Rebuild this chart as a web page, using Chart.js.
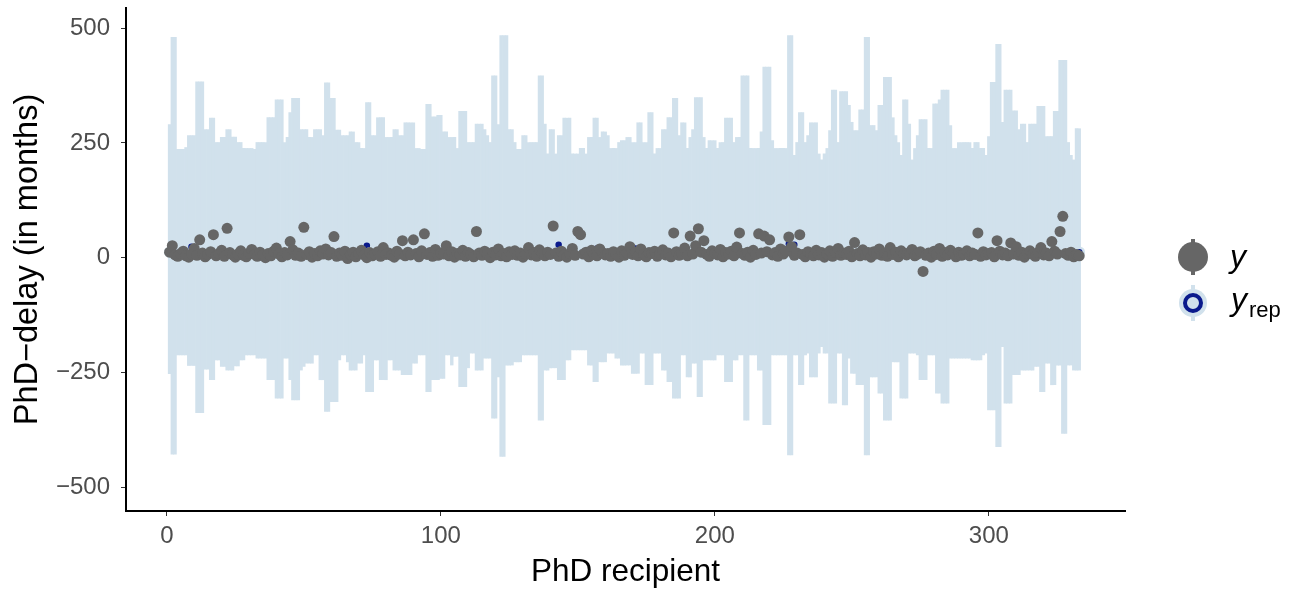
<!DOCTYPE html>
<html>
<head>
<meta charset="utf-8">
<title>PhD delay intervals</title>
<script src="https://cdn.jsdelivr.net/npm/chart.js@4.4.1/dist/chart.umd.min.js"></script>
<style>
  html, body { margin: 0; padding: 0; background: #fff; }
  #wrap { position: relative; width: 1291px; height: 590px; overflow: hidden; }
  #ppcChart { position: absolute; left: 0; top: 0; }
  .key { position: absolute; }
  .lab { position: absolute; font-family: "Liberation Sans", Arial, sans-serif; color: #000; line-height: 1; }
  .lab i { font-size: 32px; }
  .lab sub { font-size: 22px; font-style: normal; vertical-align: -7px; margin-left: 2px; }
</style>
</head>
<body>
<div id="wrap">
  <canvas id="ppcChart" width="1291" height="590"></canvas>

  <!-- legend: y -->
  <div class="key" style="left:1191px;top:239px;width:4px;height:36px;background:#666666;"></div>
  <div class="key" style="left:1178px;top:242px;width:30px;height:30px;border-radius:50%;background:#666666;"></div>
  <div class="lab" style="left:1230px;top:240px;"><i>y</i></div>

  <!-- legend: y_rep -->
  <div class="key" style="left:1191px;top:285px;width:4px;height:36px;background:#d1e1ec;"></div>
  <div class="key" style="left:1179px;top:289px;width:28px;height:28px;border-radius:50%;background:#d1e1ec;"></div>
  <div class="key" style="left:1183px;top:293px;width:12px;height:12px;border-radius:50%;border:4px solid #0a1a8c;background:#d1e1ec;"></div>
  <div class="lab" style="left:1231px;top:283px;"><i>y</i><sub>rep</sub></div>
</div>

<script>
// upper end of each predictive interval (months)
const hi = [
  290, 480, 480, 236, 236, 236, 240, 266, 266, 266, 383, 383, 383, 279, 279, 304, 304, 251, 251, 262,
  262, 279, 279, 263, 263, 251, 251, 238, 238, 238, 238, 236, 251, 251, 251, 251, 305, 305, 305, 344,
  344, 344, 251, 262, 316, 347, 347, 347, 279, 279, 279, 262, 262, 279, 279, 279, 266, 381, 381, 347,
  347, 278, 278, 266, 266, 266, 274, 274, 251, 251, 238, 238, 338, 338, 266, 266, 305, 305, 305, 262,
  262, 262, 279, 279, 266, 266, 294, 294, 294, 294, 238, 238, 236, 236, 334, 334, 307, 307, 310, 310,
  274, 274, 262, 262, 262, 238, 319, 319, 319, 251, 251, 251, 291, 291, 291, 279, 266, 251, 396, 396,
  290, 484, 484, 484, 279, 279, 251, 236, 236, 266, 266, 251, 251, 251, 251, 396, 396, 291, 226, 279,
  279, 226, 266, 266, 304, 304, 304, 226, 226, 226, 238, 238, 226, 262, 262, 304, 304, 262, 274, 274,
  266, 238, 238, 238, 251, 255, 255, 262, 262, 251, 251, 294, 294, 251, 251, 316, 316, 226, 238, 238,
  279, 279, 305, 305, 347, 347, 266, 294, 294, 238, 262, 279, 349, 349, 349, 262, 238, 255, 255, 255,
  238, 251, 251, 304, 304, 304, 251, 262, 262, 396, 396, 396, 238, 238, 238, 238, 274, 415, 415, 415,
  255, 238, 238, 238, 238, 238, 484, 484, 223, 251, 316, 316, 251, 266, 294, 294, 294, 226, 213, 226,
  238, 277, 365, 365, 251, 362, 362, 362, 332, 295, 277, 277, 322, 322, 480, 480, 288, 288, 277, 332,
  332, 393, 393, 393, 305, 266, 251, 223, 344, 344, 291, 213, 238, 266, 301, 301, 301, 238, 238, 335,
  335, 344, 365, 365, 365, 288, 238, 238, 251, 251, 251, 251, 251, 238, 251, 251, 238, 238, 223, 264,
  382, 382, 465, 465, 295, 365, 365, 365, 320, 320, 279, 291, 291, 251, 291, 291, 291, 330, 330, 330,
  264, 264, 264, 319, 319, 430, 430, 430, 251, 223, 213, 281, 281
];

// lower end of each predictive interval (months)
const lo = [
  -253, -428, -428, -212, -212, -212, -212, -235, -235, -235, -338, -338, -338, -243, -243, -266, -266, -223, -223, -237,
  -237, -245, -245, -245, -236, -236, -223, -223, -212, -212, -212, -212, -219, -219, -219, -219, -266, -266, -266, -306,
  -306, -306, -219, -219, -266, -310, -310, -310, -245, -237, -230, -230, -230, -212, -212, -266, -266, -335, -335, -314,
  -314, -314, -223, -212, -212, -227, -245, -245, -245, -230, -230, -212, -292, -292, -292, -223, -223, -266, -266, -266,
  -223, -223, -245, -245, -245, -255, -255, -255, -255, -230, -230, -212, -212, -212, -292, -292, -266, -266, -266, -263,
  -263, -212, -212, -234, -215, -215, -281, -281, -281, -240, -208, -208, -245, -245, -245, -219, -219, -219, -350, -350,
  -260, -433, -433, -234, -234, -234, -227, -227, -227, -212, -212, -212, -212, -212, -212, -354, -354, -245, -245, -240,
  -240, -240, -266, -266, -266, -223, -223, -201, -201, -201, -201, -201, -201, -234, -234, -270, -270, -227, -227, -227,
  -208, -208, -208, -219, -219, -234, -234, -234, -234, -252, -252, -252, -208, -208, -277, -277, -277, -208, -208, -208,
  -245, -245, -270, -270, -306, -306, -306, -212, -212, -260, -260, -230, -230, -303, -303, -223, -223, -223, -223, -223,
  -212, -212, -212, -270, -270, -270, -223, -223, -212, -212, -354, -354, -212, -212, -212, -245, -245, -364, -364, -364,
  -212, -212, -212, -212, -212, -212, -430, -430, -212, -212, -277, -277, -212, -208, -260, -260, -260, -208, -194, -208,
  -208, -317, -317, -317, -208, -208, -321, -321, -219, -252, -252, -277, -277, -277, -430, -430, -260, -260, -260, -295,
  -295, -354, -354, -354, -227, -227, -227, -306, -306, -306, -208, -208, -208, -212, -266, -266, -266, -212, -212, -212,
  -295, -295, -317, -317, -317, -219, -219, -219, -219, -219, -219, -219, -219, -223, -223, -223, -223, -212, -208, -332,
  -332, -332, -412, -412, -194, -317, -317, -317, -255, -255, -255, -245, -245, -245, -245, -245, -237, -237, -292, -292,
  -230, -230, -277, -277, -234, -234, -383, -383, -234, -234, -245, -245, -245
];

// observed delay per recipient
const yObs = [
  12, 26, 6, 3, 9, 14, 4, 1, 8, 20, 5, 39, 10, 2, 7, 13, 50, 4, 9, 16,
  3, 64, 11, 6, 1, 8, 15, 5, 2, 10, 18, 7, 3, 12, 6, 0, 9, 4, 14, 21,
  8, 2, 11, 6, 35, 17, 5, 10, 3, 66, 7, 13, 1, 9, 4, 15, 8, 19, 6, 11,
  46, 3, 10, 5, 14, -2, 7, 12, 2, 9, 16, 6, 0, 11, 4, 8, 13, 3, 22, 7,
  10, 5, 1, 14, 8, 37, 4, 12, 6, 39, 9, 2, 15, 52, 7, 11, 3, 18, 5, 10,
  8, 26, 4, 13, 1, 9, 6, 16, 3, 11, 7, 2, 57, 10, 5, 14, 8, 0, 12, 6,
  19, 4, 9, 2, 13, 7, 15, 5, 10, 1, 8, 22, 6, 11, 3, 17, 9, 4, 12, 7,
  69, 10, 3, 14, 6, 1, 9, 20, 5, 57, 50, 8, 12, 2, 16, 7, 4, 19, 11, 6,
  9, 3, 13, 8, 1, 15, 5, 10, 24, 7, 12, 4, 19, 6, 2, 11, 9, 14, 3, 8,
  17, 6, 10, 2, 54, 13, 5, 9, 21, 4, 47, 8, 26, 63, 12, 37, 7, 3, 15, 10,
  6, 18, 2, 11, 8, 14, 4, 23, 54, 9, 5, 12, 1, 16, 7, 52, 10, 47, 13, 39,
  6, 11, 3, 19, 8, 14, 45, 24, 5, 10, 50, 7, 2, 13, 9, 4, 16, 6, 11, 1,
  8, 15, 3, 12, 20, 5, 10, 7, 14, 2, 33, 9, 4, 17, 6, 11, 1, 13, 8, 19,
  5, 10, 3, 22, 7, 12, 2, 15, 9, 6, 11, 18, 4, 8, 13, -30, 5, 10, 1, 14,
  7, 20, 3, 11, 6, 16, 9, 2, 12, 5, 8, 15, 4, 10, 7, 54, 3, 13, 6, 9,
  11, 2, 37, 14, 6, 10, 4, 32, 8, 24, 5, 12, 1, 9, 15, 7, 3, 11, 22, 6,
  10, 4, 35, 14, 8, 57, 90, 9, 5, 12, 2, 7, 4
];

// median of the replicated draws per recipient
const yRepMid = [
  12, 10, 9, 11, 10, 9, 12, 11, 24, 10, 13, 11, 10, 9, 12, 10, 11, 10, 9, 12,
  10, 11, 12, 10, 9, 11, 10, 12, 11, 10, 9, 11, 12, 10, 11, 9, 10, 12, 11, 10,
  11, 10, 9, 12, 10, 11, 10, 9, 12, 11, 10, 11, 9, 10, 12, 11, 10, 9, 11, 10,
  12, 10, 11, 9, 10, 12, 11, 10, 9, 11, 10, 12, 26, 10, 9, 11, 12, 10, 11, 9,
  10, 11, 12, 10, 9, 11, 10, 12, 11, 10, 9, 11, 10, 12, 11, 10, 9, 11, 12, 10,
  11, 10, 9, 12, 10, 11, 10, 9, 12, 11, 10, 11, 9, 10, 12, 11, 10, 9, 11, 10,
  12, 10, 11, 9, 10, 12, 11, 10, 9, 11, 10, 12, 10, 11, 9, 10, 12, 11, 10, 9,
  11, 10, 28, 11, 10, 9, 12, 10, 11, 10, 9, 12, 11, 10, 9, 11, 20, 10, 12, 11,
  10, 9, 11, 10, 12, 11, 10, 9, 11, 10, 20, 12, 10, 11, 9, 10, 12, 11, 10, 9,
  11, 10, 12, 10, 9, 11, 10, 12, 11, 10, 9, 11, 10, 12, 11, 10, 9, 11, 12, 10,
  11, 10, 9, 12, 10, 11, 10, 9, 12, 11, 10, 11, 9, 10, 12, 11, 10, 9, 11, 10,
  12, 10, 11, 9, 10, 12, 30, 10, 28, 11, 10, 12, 10, 11, 9, 10, 12, 11, 10, 9,
  11, 10, 12, 10, 9, 11, 10, 12, 11, 10, 9, 11, 10, 12, 11, 10, 9, 11, 12, 10,
  11, 10, 9, 12, 10, 11, 10, 9, 12, 11, 10, 11, 9, 10, 12, 11, 10, 9, 11, 10,
  12, 10, 11, 9, 10, 12, 11, 10, 9, 11, 10, 12, 10, 11, 9, 10, 12, 11, 10, 9,
  11, 10, 12, 10, 9, 11, 10, 12, 11, 10, 9, 11, 10, 12, 11, 10, 9, 11, 12, 10,
  11, 10, 9, 12, 10, 11, 10, 9, 12, 11, 10, 11, 12
];

const xTicks = [0, 100, 200, 300];
const yTicks = [-500, -250, 0, 250, 500];

const ids = yObs.map((v, k) => k + 1);

const fontFam = '"Liberation Sans", Arial, sans-serif';

function fmtTick(v) {
    return v < 0 ? '\u2212' + Math.abs(v) : String(v);
}

new Chart(document.getElementById('ppcChart').getContext('2d'), {
    data: {
        datasets: [{
            type: 'bar',
            label: 'interval',
            data: ids.map((id, k) => ({ x: id, y: [lo[k], hi[k]] })),
            backgroundColor: '#d1e1ec',
            borderWidth: 0,
            barPercentage: 1,
            categoryPercentage: 1,
            grouped: false,
            order: 3
        }, {
            type: 'scatter',
            label: 'yrep',
            data: ids.map((id, k) => ({ x: id, y: yRepMid[k] })),
            pointRadius: 4.5,
            backgroundColor: '#0a1a8c',
            borderColor: '#d1e1ec',
            borderWidth: 2.5,
            order: 2
        }, {
            type: 'scatter',
            label: 'y',
            data: ids.map((id, k) => ({ x: id, y: yObs[k] })),
            pointRadius: 5.5,
            backgroundColor: '#666666',
            borderWidth: 0,
            order: 1
        }]
    },
    options: {
        responsive: false,
        animation: false,
        devicePixelRatio: 1,
        layout: { padding: { left: 0, right: 166, top: 8, bottom: 0 } },
        plugins: {
            legend: { display: false },
            tooltip: { enabled: false }
        },
        scales: {
            x: {
                type: 'linear',
                min: -14.9,
                max: 349.7,
                offset: false,
                afterBuildTicks: function (axis) {
                    axis.ticks = xTicks.map(v => ({ value: v }));
                },
                afterFit: function (axis) {
                    axis.height = 79;
                    axis.paddingLeft = 0;
                    axis.paddingRight = 0;
                },
                grid: { offset: false, drawOnChartArea: false, drawTicks: true, tickLength: 5, tickColor: '#333333', tickWidth: 1 },
                border: { display: true, color: '#000000', width: 2 },
                ticks: { color: '#4d4d4d', font: { family: fontFam, size: 24 }, padding: 6, maxRotation: 0 },
                title: { display: true, text: 'PhD recipient', color: '#000000', font: { family: fontFam, size: 31.5, lineHeight: 1.05 }, padding: { top: 0, bottom: 1 } }
            },
            y: {
                type: 'linear',
                min: -552,
                max: 544,
                afterBuildTicks: function (axis) {
                    axis.ticks = yTicks.map(v => ({ value: v }));
                },
                afterFit: function (axis) {
                    axis.width = 126;
                    axis.paddingTop = 0;
                    axis.paddingBottom = 0;
                },
                grid: { drawOnChartArea: false, drawTicks: true, tickLength: 5, tickColor: '#333333', tickWidth: 1 },
                border: { display: true, color: '#000000', width: 2 },
                ticks: { color: '#4d4d4d', font: { family: fontFam, size: 24 }, padding: 11, callback: fmtTick },
                title: { display: true, text: 'PhD\u2212delay (in months)', color: '#000000', font: { family: fontFam, size: 32.5 }, padding: { top: 9, bottom: 0 } }
            }
        }
    }
});
</script>
</body>
</html>
